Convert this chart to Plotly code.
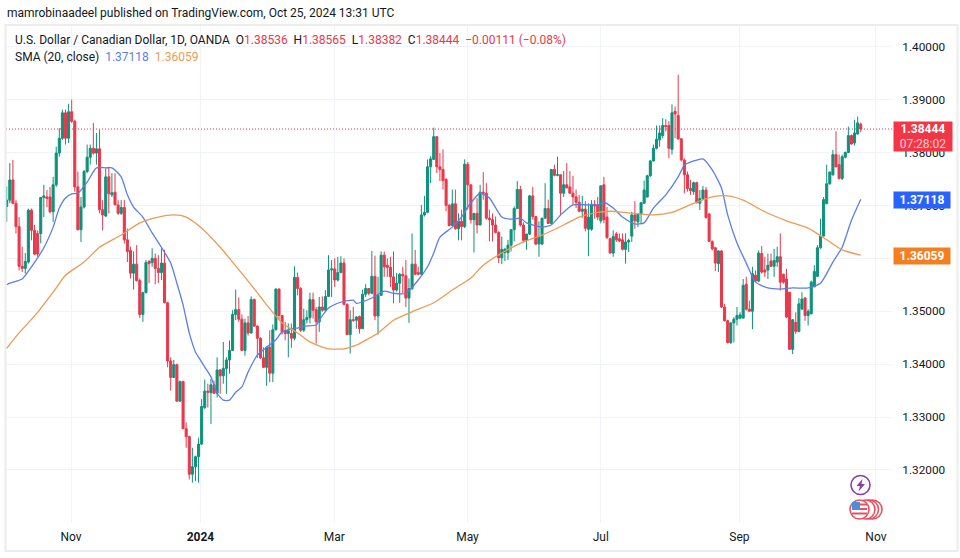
import plotly.graph_objects as go

opens = [1.3698,1.3710,1.3748,1.3704,1.3660,1.3585,1.3581,1.3593,1.3691,1.3653,
1.3647,1.3647,1.3715,1.3716,1.3716,1.3688,1.3739,1.3799,1.3827,1.3875,
1.3827,1.3877,1.3859,1.3735,1.3654,1.3697,1.3764,1.3791,1.3808,1.3799,
1.3807,1.3692,1.3680,1.3754,1.3720,1.3725,1.3701,1.3685,1.3696,1.3635,
1.3615,1.3572,1.3589,1.3558,1.3494,1.3535,1.3594,1.3592,1.3600,1.3581,
1.3573,1.3591,1.3516,1.3406,1.3375,1.3399,1.3330,1.3367,1.3278,1.3263,
1.3192,1.3206,1.3225,1.3249,1.3318,1.3349,1.3346,1.3361,1.3345,1.3389,
1.3378,1.3392,1.3408,1.3426,1.3494,1.3503,1.3485,1.3426,1.3478,1.3459,
1.3522,1.3472,1.3449,1.3412,1.3394,1.3432,1.3383,1.3465,1.3542,1.3492,
1.3463,1.3458,1.3458,1.3449,1.3564,1.3543,1.3464,1.3484,1.3488,1.3522,
1.3503,1.3480,1.3508,1.3502,1.3528,1.3578,1.3580,1.3559,1.3573,1.3591,
1.3513,1.3456,1.3484,1.3483,1.3490,1.3467,1.3532,1.3543,1.3534,1.3566,
1.3491,1.3530,1.3606,1.3587,1.3583,1.3565,1.3540,1.3553,1.3570,1.3567,
1.3525,1.3543,1.3589,1.3573,1.3570,1.3682,1.3687,1.3773,1.3787,1.3830,
1.3773,1.3768,1.3749,1.3700,1.3662,1.3703,1.3656,1.3670,1.3660,1.3778,
1.3739,1.3673,1.3685,1.3663,1.3725,1.3723,1.3676,1.3673,1.3663,1.3649,
1.3601,1.3611,1.3611,1.3625,1.3654,1.3694,1.3730,1.3663,1.3634,1.3646,
1.3718,1.3679,1.3627,1.3627,1.3676,1.3694,1.3666,1.3768,1.3757,1.3758,
1.3723,1.3739,1.3735,1.3723,1.3716,1.3706,1.3689,1.3693,1.3655,1.3655,
1.3702,1.3701,1.3671,1.3739,1.3678,1.3637,1.3610,1.3646,1.3637,1.3635,
1.3617,1.3631,1.3642,1.3682,1.3669,1.3684,1.3704,1.3716,1.3756,1.3784,
1.3808,1.3824,1.3832,1.3851,1.3851,1.3806,1.3878,1.3870,1.3826,1.3786,
1.3758,1.3732,1.3726,1.3743,1.3704,1.3713,1.3729,1.3684,1.3632,1.3620,
1.3590,1.3614,1.3508,1.3482,1.3441,1.3478,1.3485,1.3487,1.3487,1.3551,
1.3504,1.3500,1.3568,1.3557,1.3609,1.3578,1.3578,1.3595,1.3585,1.3593,
1.3603,1.3570,1.3561,1.3536,1.3428,1.3479,1.3462,1.3504,1.3525,1.3492,
1.3495,1.3546,1.3566,1.3620,1.3642,1.3703,1.3741,1.3758,1.3796,1.3777,
1.3751,1.3791,1.3800,1.3832,1.3818,1.3835,1.38536]

highs = [1.3736,1.3780,1.3786,1.3710,1.3678,1.3622,1.3610,1.3694,1.3694,1.3663,
1.3653,1.3716,1.3739,1.3729,1.3735,1.3754,1.3811,1.3846,1.3881,1.3881,
1.3892,1.3900,1.3862,1.3764,1.3716,1.3767,1.3815,1.3815,1.3856,1.3837,
1.3843,1.3710,1.3770,1.3773,1.3761,1.3761,1.3710,1.3710,1.3710,1.3656,
1.3622,1.3613,1.3625,1.3562,1.3537,1.3597,1.3597,1.3619,1.3609,1.3606,
1.3619,1.3616,1.3518,1.3413,1.3408,1.3401,1.3369,1.3369,1.3290,1.3265,
1.3242,1.3227,1.3261,1.3334,1.3371,1.3363,1.3372,1.3369,1.3413,1.3391,
1.3442,1.3413,1.3445,1.3502,1.3541,1.3526,1.3494,1.3486,1.3491,1.3528,
1.3524,1.3473,1.3451,1.3432,1.3434,1.3464,1.3475,1.3543,1.3543,1.3492,
1.3480,1.3477,1.3477,1.3585,1.3573,1.3546,1.3505,1.3502,1.3535,1.3535,
1.3508,1.3527,1.3528,1.3540,1.3606,1.3597,1.3600,1.3603,1.3604,1.3600,
1.3515,1.3502,1.3508,1.3491,1.3492,1.3541,1.3551,1.3543,1.3614,1.3605,
1.3565,1.3613,1.3613,1.3600,1.3603,1.3613,1.3572,1.3572,1.3584,1.3597,
1.3562,1.3647,1.3616,1.3584,1.3701,1.3718,1.3787,1.3793,1.3847,1.3830,
1.3799,1.3806,1.3752,1.3703,1.3730,1.3730,1.3685,1.3692,1.3787,1.3782,
1.3739,1.3685,1.3714,1.3739,1.3763,1.3742,1.3692,1.3685,1.3679,1.3651,
1.3641,1.3620,1.3635,1.3655,1.3698,1.3746,1.3737,1.3668,1.3646,1.3720,
1.3735,1.3680,1.3670,1.3676,1.3742,1.3711,1.3768,1.3777,1.3792,1.3758,
1.3765,1.3780,1.3765,1.3756,1.3730,1.3720,1.3718,1.3708,1.3704,1.3710,
1.3710,1.3716,1.3737,1.3754,1.3697,1.3639,1.3653,1.3650,1.3647,1.3647,
1.3647,1.3637,1.3688,1.3708,1.3685,1.3707,1.3747,1.3758,1.3786,1.3815,
1.3851,1.3851,1.3865,1.3863,1.3859,1.3891,1.3887,1.3947,1.3827,1.3789,
1.3764,1.3748,1.3745,1.3745,1.3729,1.3737,1.3735,1.3685,1.3634,1.3622,
1.3615,1.3615,1.3514,1.3484,1.3479,1.3489,1.3508,1.3498,1.3561,1.3565,
1.3520,1.3584,1.3577,1.3615,1.3623,1.3603,1.3609,1.3609,1.3618,1.3622,
1.3647,1.3571,1.3580,1.3536,1.3485,1.3498,1.3525,1.3536,1.3527,1.3504,
1.3558,1.3587,1.3625,1.3675,1.3716,1.3777,1.3764,1.3805,1.3840,1.3796,
1.3796,1.3802,1.3849,1.3834,1.3862,1.3868,1.38565]

lows = [1.3669,1.3704,1.3702,1.3647,1.3577,1.3574,1.3571,1.3590,1.3634,1.3606,
1.3603,1.3628,1.3678,1.3697,1.3685,1.3669,1.3735,1.3792,1.3824,1.3815,
1.3818,1.3856,1.3726,1.3653,1.3631,1.3694,1.3761,1.3777,1.3796,1.3777,
1.3685,1.3653,1.3678,1.3685,1.3716,1.3701,1.3682,1.3682,1.3628,1.3593,
1.3562,1.3541,1.3556,1.3487,1.3480,1.3534,1.3553,1.3584,1.3551,1.3553,
1.3559,1.3515,1.3394,1.3350,1.3374,1.3330,1.3329,1.3277,1.3242,1.3182,
1.3176,1.3179,1.3176,1.3247,1.3315,1.3318,1.3287,1.3344,1.3337,1.3344,
1.3363,1.3344,1.3382,1.3425,1.3483,1.3480,1.3425,1.3416,1.3454,1.3458,
1.3470,1.3412,1.3410,1.3393,1.3359,1.3366,1.3366,1.3464,1.3483,1.3456,
1.3445,1.3413,1.3431,1.3445,1.3530,1.3461,1.3461,1.3477,1.3477,1.3486,
1.3439,1.3461,1.3499,1.3501,1.3527,1.3527,1.3546,1.3556,1.3572,1.3511,
1.3456,1.3420,1.3480,1.3467,1.3458,1.3467,1.3527,1.3530,1.3532,1.3483,
1.3456,1.3530,1.3565,1.3565,1.3546,1.3515,1.3537,1.3516,1.3534,1.3508,
1.3478,1.3540,1.3568,1.3568,1.3568,1.3679,1.3685,1.3742,1.3787,1.3761,
1.3746,1.3730,1.3689,1.3660,1.3661,1.3654,1.3634,1.3634,1.3657,1.3692,
1.3666,1.3611,1.3647,1.3663,1.3711,1.3673,1.3632,1.3632,1.3647,1.3591,
1.3589,1.3595,1.3597,1.3613,1.3632,1.3694,1.3660,1.3630,1.3616,1.3644,
1.3673,1.3625,1.3603,1.3625,1.3675,1.3666,1.3665,1.3755,1.3755,1.3682,
1.3716,1.3733,1.3723,1.3701,1.3695,1.3687,1.3676,1.3651,1.3604,1.3652,
1.3675,1.3672,1.3666,1.3666,1.3637,1.3609,1.3603,1.3631,1.3631,1.3615,
1.3590,1.3612,1.3631,1.3656,1.3659,1.3666,1.3704,1.3715,1.3754,1.3783,
1.3806,1.3811,1.3827,1.3840,1.3789,1.3796,1.3827,1.3824,1.3783,1.3723,
1.3726,1.3720,1.3720,1.3704,1.3691,1.3710,1.3675,1.3631,1.3615,1.3576,
1.3574,1.3506,1.3481,1.3439,1.3438,1.3441,1.3473,1.3485,1.3487,1.3501,
1.3500,1.3466,1.3555,1.3555,1.3571,1.3565,1.3561,1.3584,1.3565,1.3584,
1.3539,1.3552,1.3487,1.3428,1.3419,1.3457,1.3460,1.3504,1.3482,1.3473,
1.3495,1.3546,1.3565,1.3618,1.3642,1.3703,1.3739,1.3756,1.3772,1.3749,
1.3748,1.3789,1.3799,1.3815,1.3813,1.3834,1.38382]

closes = [1.3710,1.3748,1.3704,1.3660,1.3585,1.3581,1.3594,1.3691,1.3653,1.3608,
1.3608,1.3715,1.3718,1.3713,1.3688,1.3739,1.3799,1.3827,1.3875,1.3827,
1.3877,1.3859,1.3735,1.3654,1.3697,1.3764,1.3791,1.3808,1.3799,1.3807,
1.3692,1.3682,1.3754,1.3722,1.3724,1.3701,1.3685,1.3696,1.3635,1.3613,
1.3572,1.3589,1.3558,1.3494,1.3535,1.3592,1.3590,1.3600,1.3581,1.3573,
1.3591,1.3516,1.3406,1.3375,1.3399,1.3330,1.3367,1.3278,1.3263,1.3192,
1.3206,1.3225,1.3249,1.3320,1.3349,1.3347,1.3361,1.3345,1.3389,1.3378,
1.3392,1.3408,1.3426,1.3494,1.3503,1.3485,1.3426,1.3478,1.3459,1.3522,
1.3472,1.3449,1.3412,1.3394,1.3432,1.3383,1.3465,1.3542,1.3492,1.3461,
1.3458,1.3463,1.3449,1.3564,1.3543,1.3464,1.3484,1.3488,1.3522,1.3502,
1.3480,1.3508,1.3502,1.3528,1.3578,1.3580,1.3559,1.3573,1.3591,1.3513,
1.3456,1.3484,1.3483,1.3489,1.3467,1.3532,1.3543,1.3534,1.3566,1.3491,
1.3530,1.3606,1.3584,1.3583,1.3565,1.3540,1.3553,1.3570,1.3567,1.3525,
1.3543,1.3589,1.3570,1.3570,1.3682,1.3687,1.3773,1.3788,1.3830,1.3773,
1.3768,1.3747,1.3700,1.3662,1.3703,1.3656,1.3670,1.3660,1.3778,1.3739,
1.3673,1.3685,1.3663,1.3725,1.3723,1.3676,1.3673,1.3663,1.3649,1.3601,
1.3617,1.3617,1.3625,1.3654,1.3694,1.3730,1.3663,1.3634,1.3646,1.3718,
1.3679,1.3627,1.3641,1.3676,1.3694,1.3666,1.3768,1.3757,1.3758,1.3723,
1.3739,1.3733,1.3723,1.3716,1.3706,1.3689,1.3693,1.3657,1.3678,1.3702,
1.3699,1.3678,1.3737,1.3673,1.3639,1.3610,1.3641,1.3635,1.3633,1.3617,
1.3631,1.3634,1.3682,1.3671,1.3684,1.3705,1.3729,1.3756,1.3784,1.3808,
1.3825,1.3837,1.3851,1.3849,1.3808,1.3875,1.3873,1.3826,1.3786,1.3758,
1.3732,1.3728,1.3743,1.3705,1.3713,1.3729,1.3677,1.3632,1.3618,1.3591,
1.3614,1.3508,1.3482,1.3441,1.3478,1.3485,1.3492,1.3493,1.3549,1.3504,
1.3500,1.3571,1.3557,1.3610,1.3574,1.3574,1.3587,1.3585,1.3596,1.3603,
1.3555,1.3555,1.3489,1.3428,1.3484,1.3462,1.3514,1.3523,1.3492,1.3500,
1.3555,1.3575,1.3620,1.3642,1.3711,1.3741,1.3763,1.3796,1.3773,1.3751,
1.3792,1.3800,1.3832,1.3816,1.3837,1.3856,1.38444]

sma_fast_bar = [0,1,5,8,12,15,17,19,21,23,26,29,32,34,37,39,41,44,47,50,53,55,57,59,61,63,66,68,70,72,74,76,78,81,84,87,89,93,94,96,100,101,104,108,112,113,118,122,125,129,133,136,138,140,144,147,149,153,156,160,163,166,168,173,176,179,183,188,191,193,196,199,203,206,209,213,217,219,222,225,228,231,233,236,239,242,246,250,254,259,263,267,270,273,276]
sma_fast = [1.3550,1.3553,1.3561,1.3584,1.3620,1.3659,1.3695,1.3714,1.3722,1.3723,1.3744,1.3771,1.3771,1.3771,1.3754,1.3720,1.3697,1.3678,1.3648,1.3621,1.3591,1.3553,1.3512,1.3459,1.3423,1.3404,1.3376,1.3345,1.3332,1.3332,1.3347,1.3357,1.3385,1.3417,1.3432,1.3446,1.3461,1.3468,1.3468,1.3472,1.3474,1.3483,1.3506,1.3517,1.3521,1.3515,1.3525,1.3538,1.3534,1.3534,1.3559,1.3584,1.3610,1.3640,1.3659,1.3678,1.3697,1.3723,1.3714,1.3678,1.3674,1.3676,1.3667,1.3659,1.3663,1.3682,1.3701,1.3701,1.3701,1.3706,1.3695,1.3678,1.3665,1.3667,1.3695,1.3720,1.3754,1.3776,1.3784,1.3788,1.3767,1.3733,1.3682,1.3629,1.3591,1.3555,1.3544,1.3542,1.3544,1.3544,1.3553,1.3593,1.3621,1.3672,1.37118]

sma_slow_bar = [0,4,10,15,19,25,30,37,43,49,54,58,63,69,73,79,84,89,94,98,104,109,113,120,125,131,138,144,150,154,160,167,173,180,185,190,195,201,209,215,222,228,233,238,245,252,259,265,270,276]
sma_slow = [1.3430,1.3459,1.3498,1.3536,1.3568,1.3593,1.3621,1.3644,1.3667,1.3678,1.3682,1.3678,1.3657,1.3621,1.3593,1.3550,1.3512,1.3478,1.3459,1.3442,1.3429,1.3429,1.3436,1.3459,1.3483,1.3499,1.3516,1.3540,1.3563,1.3587,1.3610,1.3631,1.3644,1.3663,1.3678,1.3686,1.3689,1.3686,1.3682,1.3687,1.3704,1.3716,1.3718,1.3710,1.3688,1.3671,1.3657,1.3635,1.3616,1.36059]

month_positions = [20.8, 62.6, 105.9, 148.9, 192, 236.8, 280.9]
month_labels = ["Nov", "<b>2024</b>", "Mar", "May", "Jul", "Sep", "Nov"]
price_ticks = [1.32, 1.33, 1.34, 1.35, 1.36, 1.37, 1.38, 1.39, 1.40]

last_price = 1.38444
fast_last = 1.37118
slow_last = 1.36059

W, H = 960, 558
L, R, T, B = 6, 892, 25, 523
GREEN, RED = "#0f917b", "#e8384c"
BLUE, ORANGE = "#5a7fe6", "#ef9a52"
TXT = "#131722"
FONT = "Roboto"

def fx(px):
    return (px - L) / (R - L)

def fy(py):
    return (B - py) / (B - T)

fig = go.Figure()
bars = list(range(len(closes)))
fig.add_trace(go.Candlestick(
    x=bars, open=opens, high=highs, low=lows, close=closes,
    whiskerwidth=0,
    increasing=dict(line=dict(color=GREEN, width=1), fillcolor=GREEN),
    decreasing=dict(line=dict(color=RED, width=1), fillcolor=RED),
    showlegend=False, hoverinfo="skip"))
fig.add_trace(go.Scatter(x=sma_fast_bar, y=sma_fast, mode="lines",
                         line=dict(color=BLUE, width=1.3, shape="spline", smoothing=0.6),
                         showlegend=False, hoverinfo="skip"))
fig.add_trace(go.Scatter(x=sma_slow_bar, y=sma_slow, mode="lines",
                         line=dict(color=ORANGE, width=1.3, shape="spline", smoothing=0.6),
                         showlegend=False, hoverinfo="skip"))

shapes = [
    dict(type="line", xref="paper", yref="y", x0=0, x1=1, y0=last_price, y1=last_price,
         line=dict(color=RED, width=1, dash="1px,2px")),
    dict(type="rect", xref="paper", yref="paper",
         x0=fx(5.5), x1=fx(957.5), y0=fy(551), y1=fy(25),
         line=dict(color="#ececec", width=2)),
]

def circle(cx, cy, r, line, fill, width=1.5):
    return dict(type="circle", xref="paper", yref="paper",
                x0=fx(cx - r), x1=fx(cx + r), y0=fy(cy + r), y1=fy(cy - r),
                line=dict(color=line, width=width), fillcolor=fill, layer="above")

def poly(points, fill):
    path = "M " + " L ".join(f"{fx(a):.5f},{fy(b):.5f}" for a, b in points) + " Z"
    return dict(type="path", xref="paper", yref="paper", path=path,
                fillcolor=fill, line=dict(width=0), layer="above")

# event markers
shapes.append(circle(860.5, 485, 9.5, "#8e3aa8", "white", 1.6))
shapes.append(poly([(862.5, 479), (856.5, 486), (860, 486), (858.5, 491.5), (865, 484), (861.5, 484)], "#8e3aa8"))
for cx in (872.5, 869, 865.5):
    shapes.append(circle(cx, 509.5, 9.5, "#e8505f", "white", 1.6))
shapes.append(circle(859.5, 509.5, 9.5, "#e8505f", "white", 1.6))
for yy in (504.5, 509, 513.5):
    shapes.append(poly([(852, yy - 1), (867, yy - 1), (867, yy + 1), (852, yy + 1)], "#e8505f"))
shapes.append(poly([(852, 502), (860, 502), (860, 510), (852, 510)], "#4a90d9"))

annotations = [
    dict(xref="paper", yref="paper", x=fx(4.5), y=fy(13), xanchor="left", yanchor="middle", showarrow=False,
         text="mamrobinaadeel published on TradingView.com, Oct 25, 2024 13:31 UTC",
         font=dict(family=FONT, size=12, color=TXT)),
    dict(xref="paper", yref="paper", x=fx(12.5), y=fy(40), xanchor="left", yanchor="middle", showarrow=False,
         text=("U.S. Dollar / Canadian Dollar, 1D, OANDA\u00a0\u00a0"
               f"O<span style='color:{RED}'>1.38536</span>\u00a0 H<span style='color:{RED}'>1.38565</span>\u00a0 "
               f"L<span style='color:{RED}'>1.38382</span>\u00a0 C<span style='color:{RED}'>1.38444</span>\u00a0 "
               f"<span style='color:{RED}'>\u22120.00111 (\u22120.08%)</span>"),
         font=dict(family=FONT, size=12, color=TXT)),
    dict(xref="paper", yref="paper", x=fx(12.5), y=fy(57), xanchor="left", yanchor="middle", showarrow=False,
         text=(f"SMA (20, close)\u00a0\u00a0<span style='color:{BLUE}'>1.37118</span>\u00a0\u00a0"
               f"<span style='color:{ORANGE}'>1.36059</span>"),
         font=dict(family=FONT, size=12, color=TXT)),
    dict(xref="paper", yref="paper", x=fx(893), y=fy(136.5), xanchor="left", yanchor="middle", showarrow=False,
         text="<b>1.38444</b><br><span style='color:#ffd0d5'>07:28:02</span>",
         align="center", width=58, height=29, bgcolor="#f23645", borderpad=0,
         font=dict(family=FONT, size=12, color="white")),
    dict(xref="paper", yref="paper", x=fx(893), y=fy(199.7), xanchor="left", yanchor="middle", showarrow=False,
         text="<b>1.37118</b>", align="center", width=56, height=16, bgcolor="#2962ff", borderpad=0,
         font=dict(family=FONT, size=12, color="white")),
    dict(xref="paper", yref="paper", x=fx(893), y=fy(255.5), xanchor="left", yanchor="middle", showarrow=False,
         text="<b>1.36059</b>", align="center", width=56, height=16, bgcolor="#f57f20", borderpad=0,
         font=dict(family=FONT, size=12, color="white")),
]

fig.update_layout(
    width=W, height=H, autosize=False,
    margin=dict(l=L, r=W - R, t=T, b=H - B, pad=0),
    paper_bgcolor="white", plot_bgcolor="white",
    shapes=shapes, annotations=annotations, boxgap=0.05,
    xaxis=dict(range=[-0.23, 286.1], rangeslider=dict(visible=False),
               tickmode="array", tickvals=month_positions, ticktext=month_labels,
               showgrid=True, gridcolor="#f0f3fa", gridwidth=1, zeroline=False,
               showline=False, ticks="outside", ticklen=3, tickcolor="rgba(0,0,0,0)",
               tickfont=dict(family=FONT, size=12, color=TXT)),
    yaxis=dict(range=[1.30998, 1.40410], side="right",
               tickmode="array", tickvals=price_ticks, tickformat=".5f",
               showgrid=True, gridcolor="#f0f3fa", gridwidth=1, zeroline=False,
               showline=False, ticks="outside", ticklen=7, tickcolor="rgba(0,0,0,0)",
               tickfont=dict(family=FONT, size=11.8, color=TXT)),
)

fig.write_html("out.html", config=dict(displayModeBar=False),
               post_script="document.body.style.margin='0';document.body.style.overflow='hidden';")
